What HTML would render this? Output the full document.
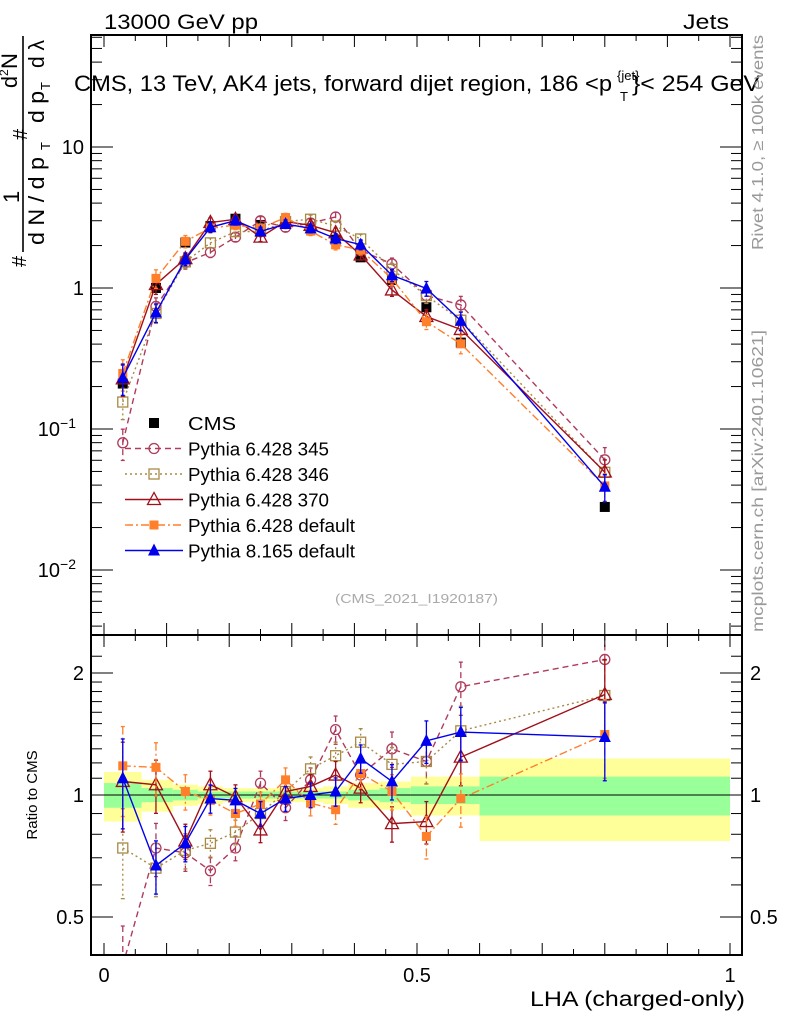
<!DOCTYPE html>
<html><head><meta charset="utf-8"><style>
body{margin:0;background:#fff;}
svg{display:block;font-family:"Liberation Sans",sans-serif;}
</style></head><body>
<svg id="c" width="786" height="1024" viewBox="0 0 786 1024"></svg>
<script>
const xs = [0.03,0.083,0.13,0.17,0.21,0.25,0.29,0.33,0.37,0.41,0.46,0.515,0.57,0.8];
const cmsVals = [0.21,1.0,2.1,2.75,3.1,2.8,2.9,2.65,2.2,1.65,1.14,0.73,0.41,0.028];
const r345 = [0.38,0.74,0.72,0.65,0.74,1.07,0.93,1.09,1.45,1.12,1.30,1.21,1.85,2.16];
const r346 = [0.74,0.66,0.73,0.76,0.81,0.90,1.02,1.16,1.25,1.35,1.19,1.21,1.44,1.76];
const r370 = [1.08,1.06,0.77,1.06,0.99,0.82,1.02,1.05,1.12,1.04,0.85,0.86,1.24,1.77];
const rP6 = [1.18,1.17,1.02,0.97,0.90,0.95,1.09,0.955,0.92,1.13,1.02,0.79,0.98,1.41];
const rP8 = [1.10,0.67,0.76,0.98,0.97,0.90,0.98,1.0,1.02,1.23,1.08,1.36,1.43,1.39];
const relErr = [0.25,0.15,0.1,0.08,0.07,0.07,0.07,0.07,0.08,0.08,0.1,0.12,0.15,0.22];
const binEdges = [0,0.06,0.11,0.15,0.19,0.23,0.27,0.31,0.35,0.39,0.44,0.49,0.54,0.6,1.0];
const greenW = [0.07,0.04,0.03,0.02,0.02,0.02,0.02,0.02,0.02,0.03,0.04,0.05,0.05,0.11];
const yellowW = [0.14,0.09,0.06,0.05,0.04,0.04,0.04,0.04,0.05,0.07,0.08,0.11,0.11,0.23];
const mainTicks = [10,1,0.1,0.01];
const ratioTicks = [0.5,1,2];

const NS="http://www.w3.org/2000/svg", svg=document.getElementById('c');
function mk(t,a,p){const e=document.createElementNS(NS,t);for(const k in a)e.setAttribute(k,a[k]);(p||svg).appendChild(e);return e;}
const L=91,R=742,T=35,MB=635,RB=955;
const X=v=>104+626*v;
const Y=v=>288-141*Math.log10(v);
const YR=v=>795-122*Math.log2(v);
const clipM=mk('clipPath',{id:'cm'});mk('rect',{x:L,y:T,width:R-L,height:MB-T},clipM);
const clipR=mk('clipPath',{id:'cr'});mk('rect',{x:L,y:MB,width:R-L,height:RB-MB},clipR);

const gb=mk('g',{'clip-path':'url(#cr)'});

for(let i=0;i<binEdges.length-1;i++){
  const x0=X(binEdges[i]),x1=X(binEdges[i+1]);
  mk('rect',{x:x0,y:YR(1+yellowW[i]),width:x1-x0,height:YR(1-yellowW[i])-YR(1+yellowW[i]),fill:'#ffff99'},gb);
  mk('rect',{x:x0,y:YR(1+greenW[i]),width:x1-x0,height:YR(1-greenW[i])-YR(1+greenW[i]),fill:'#99ff99'},gb);
}
mk('line',{x1:L,x2:R,y1:YR(1),y2:YR(1),stroke:'#000','stroke-width':1},gb);

const series=[
 {name:'Pythia 6.428 345',r:r345,color:'#b03a5b',dash:'6,4',mk:'circle'},
 {name:'Pythia 6.428 346',r:r346,color:'#a88a45',dash:'2,3',mk:'osq'},
 {name:'Pythia 6.428 370',r:r370,color:'#a0101a',dash:'',mk:'otri'},
 {name:'Pythia 6.428 default',r:rP6,color:'#ff7f2a',dash:'8,3,2,3',mk:'fsq'},
 {name:'Pythia 8.165 default',r:rP8,color:'#0000ee',dash:'',mk:'ftri'}
];
function marker(g,type,x,y,c){
  if(type==='circle')mk('circle',{cx:x,cy:y,r:5,fill:'none',stroke:c,'stroke-width':1.3},g);
  else if(type==='osq')mk('rect',{x:x-5,y:y-5,width:10,height:10,fill:'none',stroke:c,'stroke-width':1.3},g);
  else if(type==='fsq')mk('rect',{x:x-4.5,y:y-4.5,width:9,height:9,fill:c},g);
  else if(type==='csq')mk('rect',{x:x-5,y:y-5,width:10,height:10,fill:'#000'},g);
  else if(type==='otri')mk('polygon',{points:`${x},${y-7} ${x-6.5},${y+5} ${x+6.5},${y+5}`,fill:'none',stroke:c,'stroke-width':1.3},g);
  else mk('polygon',{points:`${x},${y-7} ${x-6},${y+5} ${x+6},${y+5}`,fill:c},g);
}
function drawSeries(s,ratio){
  const g=mk('g',{'clip-path':ratio?'url(#cr)':'url(#cm)'});
  
  
  const vals=s.r.map((r,i)=>ratio?r:r*cmsVals[i]);
  const fy=ratio?YR:Y;
  mk('polyline',{points:xs.map((x,i)=>X(x)+','+fy(vals[i])).join(' '),fill:'none',stroke:s.color,'stroke-width':1.4,'stroke-dasharray':s.dash},g);
  xs.forEach((x,i)=>{
    const v=vals[i],e=relErr[i];
    const y0=fy(v*(1+e)),y1=fy(Math.max(v*(1-e),1e-4));
    mk('line',{x1:X(x),x2:X(x),y1:y0,y2:y1,stroke:s.color,'stroke-width':1.3,'stroke-dasharray':s.dash},g);
    mk('line',{x1:X(x)-2,x2:X(x)+2,y1:y0,y2:y0,stroke:s.color,'stroke-width':1.3},g);
    mk('line',{x1:X(x)-2,x2:X(x)+2,y1:y1,y2:y1,stroke:s.color,'stroke-width':1.3},g);
    marker(g,s.mk,X(x),fy(v),s.color);
  });
}
const gc=mk('g',{'clip-path':'url(#cm)'});

xs.forEach((x,i)=>marker(gc,'csq',X(x),Y(cmsVals[i]),'#000'));
series.forEach(s=>{drawSeries(s,false);drawSeries(s,true);});

const f1=mk('rect',{x:L,y:T,width:R-L,height:MB-T,fill:'none',stroke:'#000','stroke-width':2});

const f2=mk('rect',{x:L,y:MB,width:R-L,height:RB-MB,fill:'none',stroke:'#000','stroke-width':2});


for(let v=0;v<=1.0001;v+=0.05){
  const big=Math.abs(v*10-Math.round(v*10))<1e-6, h=big?12:6;
  [T,MB].forEach(t=>mk('line',{x1:X(v),x2:X(v),y1:t,y2:t+h,stroke:'#000','stroke-width':1}));
  [MB,RB].forEach(b=>mk('line',{x1:X(v),x2:X(v),y1:b,y2:b-h,stroke:'#000','stroke-width':1}));
}
[[0,'0'],[0.5,'0.5'],[1,'1']].forEach(([v,t])=>{const e=mk('text',{x:X(v),y:982,'font-size':20,'text-anchor':'middle'});e.textContent=t;});
for(let d=-3;d<=1;d++){for(let m=1;m<10;m++){const v=m*Math.pow(10,d),y=Y(v);if(y<T||y>MB)continue;const h=m===1?22:11;
  mk('line',{x1:L,x2:L+h,y1:y,y2:y,stroke:'#000'});mk('line',{x1:R,x2:R-h,y1:y,y2:y,stroke:'#000'});}}
mainTicks.forEach(v=>{const e=mk('text',{x:84,y:Y(v)+7,'font-size':20,'text-anchor':'end'});
  if(v===10)e.textContent='10';else if(v===1)e.textContent='1';else{e.textContent='10';const s=mk('tspan',{dy:-8,'font-size':14},e);s.textContent=(v===0.1?'−1':'−2');}
  if(v!==1&&v!==10)e.setAttribute('x',76);});
[0.4,0.5,0.6,0.7,0.8,0.9,1,1.1,1.2,1.3,1.4,1.5,1.6,1.7,1.8,1.9,2,2.2].forEach(v=>{const y=YR(v);if(y<MB||y>RB)return;const big=[0.5,1,2].includes(v),h=big?22:11;
  mk('line',{x1:L,x2:L+h,y1:y,y2:y,stroke:'#000'});mk('line',{x1:R,x2:R-h,y1:y,y2:y,stroke:'#000'});});
ratioTicks.forEach(v=>{[[84,'end'],[750,'start']].forEach(([x,a])=>{const e=mk('text',{x:x,y:YR(v)+7,'font-size':20,'text-anchor':a});e.textContent=String(v);});});

function txt(x,y,s,t,attrs,name,len){const a=Object.assign({x:x,y:y,'font-size':s},attrs||{});if(len){a.textLength=len;a.lengthAdjust='spacingAndGlyphs';}const e=mk('text',a);e.textContent=t;return e;}
txt(104,29,21,'13000 GeV pp',{},'energy-label',154);
txt(683,29,21,'Jets',{},'process-label',46);
txt(74,91,22,'CMS, 13 TeV, AK4 jets, forward dijet region, 186 <p',{},'plot-title',538);
txt(617,80,13,'{jet}',{},'plot-title-superscript');
txt(620,101,13,'T',{},'plot-title-subscript');
txt(632,91,22,'}< 254 GeV',{},'plot-title-end',128);
txt(530,1006,21,'LHA (charged-only)',{},'x-axis-title',215);
txt(0,0,15,'Ratio to CMS',{transform:'translate(37,795) rotate(-90)','text-anchor':'middle'},'ratio-y-axis-title');
txt(0,0,16,'Rivet 4.1.0, ≥ 100k events',{transform:'translate(763,250) rotate(-90)',fill:'#999'},'rivet-label',215);
txt(0,0,16,'mcplots.cern.ch [arXiv:2401.10621]',{transform:'translate(763,632) rotate(-90)',fill:'#999'},'mcplots-label',302);
txt(335,603,13,'(CMS_2021_I1920187)',{fill:'#aaa'},'analysis-id',163);

const yt=mk('g',{transform:'rotate(-90)'});
function yl(lx,ly,s,t,len){const a={x:lx,y:ly,'font-size':s};if(len){a.textLength=len;a.lengthAdjust='spacingAndGlyphs';}const e=mk('text',a,yt);e.textContent=t;return e;}
yl(-267,26,20,'#');
yl(-203,19,22,'1');
mk('line',{x1:-252,x2:-36,y1:23,y2:23,stroke:'#000','stroke-width':1.6},yt);
yl(-245,44,22,'d N / d p',88);
yl(-150,50,13,'T');
yl(-140,27,20,'#');
yl(-88,17,22,'d',12);
yl(-76,8,12,'2');
yl(-69,17,22,'N');
yl(-123,44,22,'d p',32);
yl(-90,50,13,'T');
yl(-68,44,22,'d λ',28);

const lg=mk('g',{});
const le=[{name:'CMS',mk:'csq',color:'#000',dash:''}].concat(series);
const legLen=[48,141,141,141,167,167];
le.forEach((s,i)=>{const y=423+i*25.5;const g=mk('g',{},lg);
  if(i>0)mk('line',{x1:125,x2:183,y1:y,y2:y,stroke:s.color,'stroke-width':1.4,'stroke-dasharray':s.dash},g);
  marker(g,s.mk,154,y,s.color);
  const t=mk('text',{x:188,y:y+7,'font-size':18,textLength:legLen[i],lengthAdjust:'spacingAndGlyphs'},g);t.textContent=s.name;});
</script>
</body></html>
